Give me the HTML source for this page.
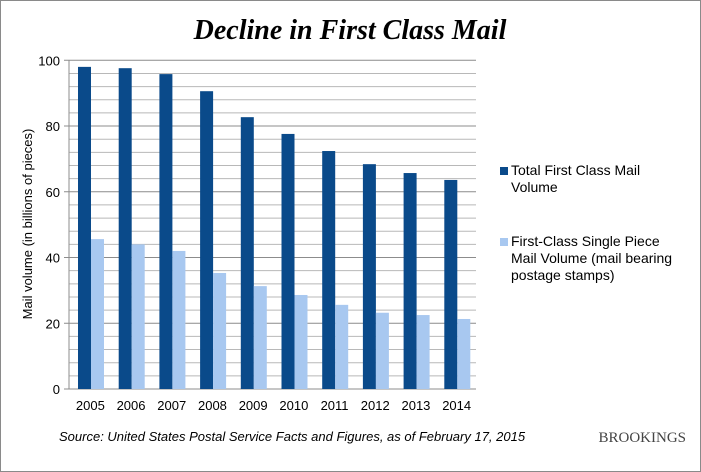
<!DOCTYPE html>
<html><head><meta charset="utf-8"><style>
body{margin:0;background:#fff}
#c{position:relative;width:699px;height:470px;border:1px solid #8a8a8a;background:#fff;font-family:"Liberation Sans",sans-serif;overflow:hidden}
</style></head><body>
<div id="c">
<svg id="s" width="699" height="470" style="position:absolute;left:0;top:0">
<text x="349" y="38" text-anchor="middle" font-family="Liberation Serif,serif" font-weight="bold" font-style="italic" font-size="28" fill="#000">Decline in First Class Mail</text>
<text transform="translate(31,223) rotate(-90)" text-anchor="middle" font-size="13" fill="#000">Mail volume (in billions of pieces)</text>
<g id="grid"></g><g id="bars"></g><g id="ticks"></g>
<rect x="499" y="166" width="8" height="8" fill="#0a4a8a"/>
<text x="510" y="174" font-size="14" fill="#000"><tspan x="510">Total First Class Mail</tspan><tspan x="510" dy="17">Volume</tspan></text>
<rect x="499" y="237" width="8" height="8" fill="#a8c8f0"/>
<text x="510" y="245" font-size="14" fill="#000"><tspan x="510">First-Class Single Piece</tspan><tspan x="510" dy="17">Mail Volume (mail bearing</tspan><tspan x="510" dy="17">postage stamps)</tspan></text>
<text x="58" y="440" font-size="13" font-style="italic" fill="#000">Source: United States Postal Service Facts and Figures, as of February 17, 2015</text>
<text x="685" y="441" text-anchor="end" font-family="Liberation Serif,serif" font-size="15" fill="#444">BROOKINGS</text>
</svg>
</div>
<script>
const years=["2005","2006","2007","2008","2009","2010","2011","2012","2013","2014"];
const totalVolume=[98.0,97.6,95.8,90.6,82.7,77.6,72.4,68.4,65.7,63.6];
const singlePiece=[45.6,44.0,42.0,35.3,31.3,28.6,25.6,23.2,22.5,21.3];
const yTicks=[0,20,40,60,80,100];
const NS="http://www.w3.org/2000/svg";
const x0=68,x1=475,y0=388,yTop=59.3;
const y=v=>y0-(v/100)*(y0-yTop);
const step=(x1-x0)/years.length;
function mk(t,a,p){const e=document.createElementNS(NS,t);for(const k in a)e.setAttribute(k,a[k]);p.appendChild(e);return e;}
const grid=document.getElementById('grid'),bars=document.getElementById('bars'),ticks=document.getElementById('ticks');
for(let v=0;v<=100;v+=4){
 const major=v%20===0;
 const l=mk('line',{x1:major?x0-5:x0,x2:x1,y1:y(v),y2:y(v),stroke:major?'#8c8c8c':'#b8b8b8','stroke-width':1},grid);
 
 
}
yTicks.forEach(v=>{
 const t=mk('text',{x:x0-9,y:y(v)+5,'text-anchor':'end','font-size':13,fill:'#000'},ticks);
 t.textContent=v;
 
 
});
const ax=mk('line',{x1:x0,x2:x0,y1:yTop,y2:y0,stroke:'#8c8c8c'},ticks);


years.forEach((yr,i)=>{
 const cx=x0+step*i;
 const b1=mk('rect',{x:cx+9,y:y(totalVolume[i]),width:13,height:y0-y(totalVolume[i]),fill:'#0a4a8a'},bars);
 
 
 const b2=mk('rect',{x:cx+22,y:y(singlePiece[i]),width:13,height:y0-y(singlePiece[i]),fill:'#a8c8f0'},bars);
 
 
 const t=mk('text',{x:cx+step/2+1,y:409,'text-anchor':'middle','font-size':13,fill:'#000'},ticks);
 t.textContent=yr;
 
 
});
</script>
</body></html>
